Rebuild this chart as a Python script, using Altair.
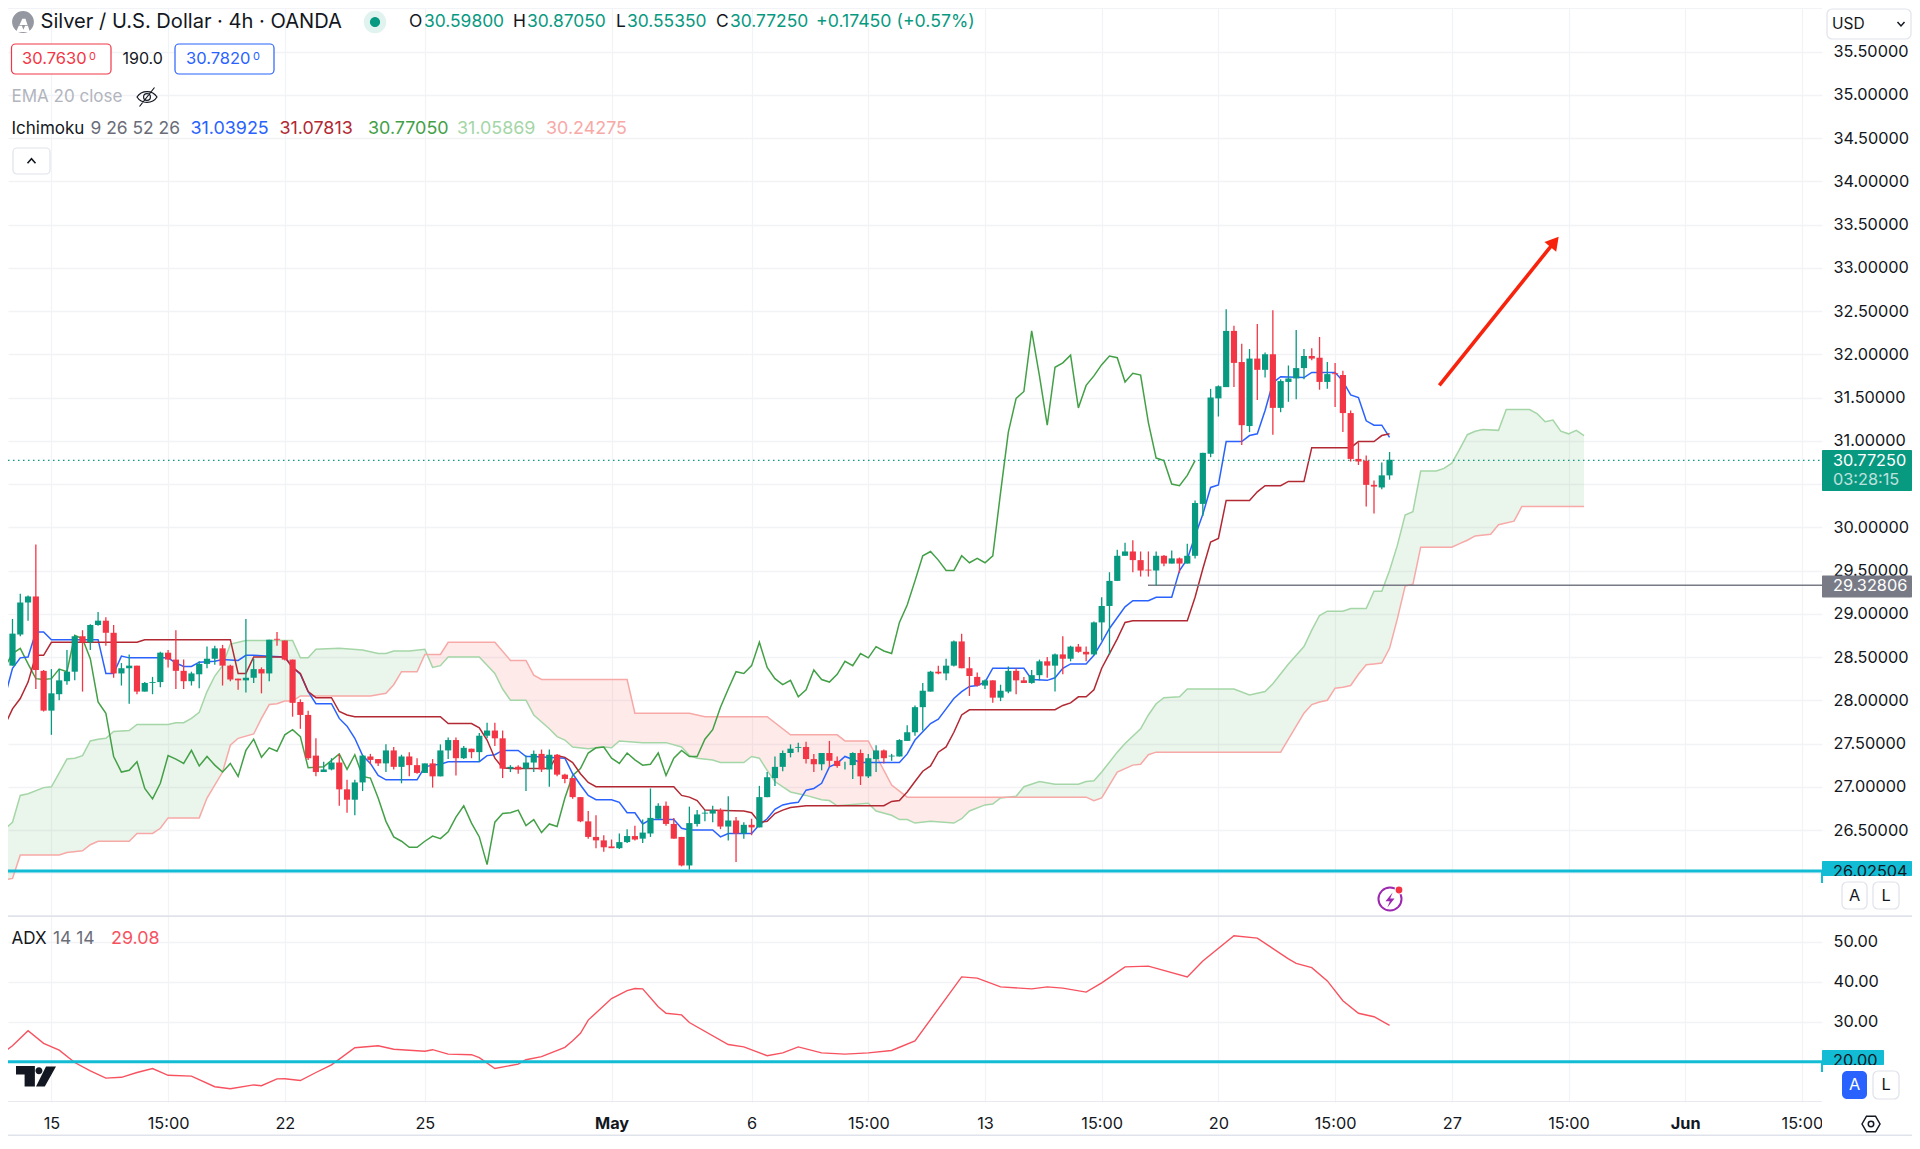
import altair as alt
import numpy as np
import pandas as pd

# ---------- candles (bar index -6 .. 172, 4h bars) ----------
first_bar = -6
candle_dir = ("RGGGRRGGGG" "RGGRRGGRGG" "GRRRGGGGRR" "RGGRGRRRRR" "RGGRRGGRRG"
              "RGRRGRGGRG" "RGGRRGRGGR" "GRRRRRRRRG" "GRGGGRRRGG" "GGRGRGRGGG"
              "GGGRRGRRGG" "RGGRGGGGGG" "RGGRRRGRGG" "RRGGRGRGRR" "GGGGGRRRGR"
              "GRGGGGGGRR" "GRGRGGGGRR" "GRRRRRRGG")
wick_high = [28.52,28.94,29.23,29.21,29.80,28.35,28.36,28.36,28.58,28.75,
 28.81,28.88,29.02,28.96,28.87,28.43,28.53,28.40,28.21,28.27,
 28.56,28.58,28.81,28.47,28.33,28.45,28.62,28.63,28.64,28.41,
 28.25,28.94,28.48,28.38,28.70,28.79,28.69,28.47,28.01,27.88,
 27.56,27.29,27.33,27.38,27.08,27.08,27.37,27.38,27.32,27.49,
 27.46,27.37,27.40,27.33,27.27,27.32,27.49,27.57,27.57,27.47,
 27.44,27.62,27.74,27.74,27.65,27.25,27.25,27.36,27.42,27.43,
 27.43,27.38,27.15,27.10,26.88,26.72,26.67,26.44,26.39,26.46,
 26.51,26.55,26.62,26.98,26.81,26.83,26.64,26.42,26.77,26.73,
 26.73,26.78,26.75,26.89,26.65,26.59,26.63,27.01,27.17,27.35,
 27.42,27.49,27.51,27.52,27.38,27.39,27.53,27.35,27.29,27.40,
 27.43,27.38,27.48,27.43,27.38,27.55,27.71,27.94,28.20,28.34,
 28.40,28.48,28.69,28.77,28.50,28.32,28.24,28.23,28.18,28.39,
 28.37,28.27,28.35,28.47,28.50,28.54,28.74,28.63,28.65,28.62,
 28.91,29.19,29.48,29.74,29.82,29.85,29.72,29.72,29.72,29.68,
 29.73,29.65,29.81,30.31,30.86,31.60,31.64,32.52,32.33,32.12,
 32.06,32.35,32.02,32.51,31.71,31.87,32.28,32.06,32.07,32.20,
 31.91,31.90,31.81,31.35,30.98,30.83,30.54,30.75,30.87]
body_top = [28.44,28.77,29.13,29.20,29.20,28.34,28.08,28.23,28.33,28.74,
 28.74,28.87,28.92,28.92,28.78,28.37,28.40,28.40,28.20,28.21,
 28.55,28.55,28.47,28.34,28.31,28.42,28.48,28.60,28.60,28.40,
 28.25,28.26,28.36,28.36,28.70,28.71,28.69,28.47,27.98,27.83,
 27.36,27.20,27.28,27.28,26.97,27.05,27.36,27.35,27.32,27.42,
 27.42,27.35,27.35,27.25,27.27,27.27,27.42,27.54,27.54,27.45,
 27.44,27.59,27.65,27.65,27.56,27.23,27.23,27.28,27.38,27.38,
 27.37,27.37,27.14,27.10,26.88,26.60,26.42,26.38,26.31,26.36,
 26.43,26.43,26.47,26.64,26.78,26.78,26.57,26.42,26.58,26.68,
 26.70,26.73,26.73,26.61,26.61,26.56,26.56,26.88,27.11,27.23,
 27.39,27.44,27.46,27.46,27.32,27.39,27.39,27.30,27.25,27.39,
 27.39,27.33,27.42,27.42,27.36,27.54,27.63,27.92,28.11,28.33,
 28.33,28.40,28.68,28.68,28.37,28.27,28.23,28.23,28.11,28.34,
 28.34,28.23,28.29,28.45,28.45,28.53,28.53,28.62,28.62,28.56,
 28.90,29.09,29.38,29.67,29.72,29.72,29.62,29.51,29.67,29.67,
 29.64,29.64,29.67,30.28,30.86,31.50,31.63,32.27,32.27,31.91,
 31.95,31.95,32.00,32.00,31.69,31.72,31.84,31.98,31.98,31.96,
 31.77,31.78,31.76,31.32,30.79,30.77,30.49,30.60,30.78]
body_bottom = [28.40,28.40,28.76,29.13,28.35,27.88,27.88,28.07,28.22,28.33,
 28.67,28.67,28.87,28.78,28.31,28.31,28.37,28.10,28.10,28.20,
 28.21,28.47,28.34,28.22,28.22,28.30,28.42,28.48,28.40,28.24,
 28.23,28.23,28.26,28.31,28.31,28.70,28.47,27.97,27.83,27.33,
 27.17,27.17,27.20,26.97,26.85,26.85,27.05,27.31,27.27,27.27,
 27.23,27.23,27.25,27.16,27.16,27.12,27.12,27.42,27.33,27.33,
 27.40,27.40,27.59,27.56,27.21,27.21,27.20,27.21,27.28,27.20,
 27.20,27.14,27.09,26.88,26.60,26.42,26.38,26.30,26.29,26.29,
 26.36,26.39,26.40,26.46,26.63,26.57,26.40,26.09,26.09,26.57,
 26.69,26.69,26.54,26.54,26.46,26.46,26.53,26.53,26.88,27.10,
 27.23,27.39,27.45,27.32,27.26,27.26,27.30,27.24,27.25,27.25,
 27.12,27.12,27.32,27.33,27.35,27.35,27.53,27.63,27.92,28.10,
 28.31,28.31,28.40,28.37,28.28,28.17,28.17,28.03,28.03,28.10,
 28.23,28.20,28.20,28.29,28.40,28.40,28.48,28.48,28.56,28.53,
 28.53,28.90,29.09,29.38,29.67,29.62,29.50,29.50,29.50,29.58,
 29.58,29.58,29.58,29.67,30.27,30.85,31.49,31.62,31.90,31.18,
 31.17,31.82,31.82,31.38,31.38,31.68,31.72,31.84,31.95,31.68,
 31.68,31.77,31.32,30.79,30.76,30.49,30.47,30.46,30.60]
wick_low = [28.40,28.40,28.74,28.92,28.13,27.87,27.60,28.00,28.18,28.23,
 28.10,28.58,28.86,28.63,28.26,28.17,27.96,28.07,28.10,28.07,
 28.15,28.38,28.13,28.13,28.17,28.14,28.37,28.41,28.17,28.22,
 28.12,28.09,28.20,28.08,28.22,28.63,28.46,27.81,27.67,27.31,
 27.12,27.17,27.19,26.78,26.70,26.67,26.95,27.26,27.24,27.17,
 27.20,27.04,27.12,27.15,27.16,26.99,27.12,27.32,27.13,27.32,
 27.33,27.29,27.56,27.47,27.10,27.17,27.15,26.95,27.17,27.17,
 27.00,27.12,27.04,26.86,26.59,26.40,26.29,26.25,26.29,26.28,
 26.35,26.38,26.35,26.42,26.62,26.55,26.40,26.08,26.04,26.54,
 26.60,26.59,26.51,26.38,26.13,26.40,26.44,26.53,26.88,27.01,
 27.18,27.34,27.40,27.27,27.17,27.19,27.23,27.22,27.20,27.09,
 27.02,27.10,27.17,27.27,27.30,27.35,27.53,27.59,27.65,28.10,
 28.30,28.23,28.39,28.37,28.05,28.16,28.13,27.97,27.99,28.08,
 28.07,28.20,28.19,28.23,28.26,28.10,28.30,28.45,28.55,28.45,
 28.52,28.69,28.53,29.38,29.67,29.48,29.43,29.43,29.33,29.55,
 29.58,29.47,29.58,29.64,30.13,30.81,31.28,31.62,31.62,30.95,
 31.10,31.47,31.73,31.07,31.33,31.45,31.48,31.71,31.93,31.59,
 31.60,31.39,31.10,30.76,30.72,30.24,30.16,30.44,30.55]

# ---------- indicator vertices: (bar index, value) ----------
tenkan = [(-7,28.03),(-6,28.03),(-5,28.37),(-4,28.49),(-3,28.50),(-2,28.79),(-1,28.79),(0,28.70),(6,28.70),(7,28.31),(8,28.31),(9,28.51),(10,28.49),(15,28.49),(16,28.43),(17,28.39),(18,28.39),(19,28.44),(21,28.45),(22,28.47),(24,28.46),(25,28.52),(26,28.52),(28,28.51),(30,28.50),(31,28.38),(32,28.30),(33,28.10),(34,27.96),(36,27.96),(37,27.79),(38,27.70),(39,27.56),(40,27.36),(41,27.27),(42,27.13),(43,27.08),(47,27.08),(48,27.23),(49,27.25),(50,27.26),(51,27.29),(55,27.29),(56,27.36),(57,27.37),(58,27.42),(60,27.42),(61,27.35),(62,27.35),(66,27.33),(67,27.15),(68,27.02),(69,26.90),(70,26.85),(72,26.85),(73,26.82),(74,26.70),(75,26.70),(76,26.57),(77,26.62),(80,26.62),(81,26.52),(82,26.50),(85,26.50),(86,26.42),(87,26.46),(90,26.46),(91,26.56),(92,26.63),(93,26.74),(94,26.79),(95,26.81),(96,26.82),(97,26.96),(98,26.98),(99,27.04),(100,27.23),(101,27.27),(102,27.35),(104,27.28),(109,27.28),(110,27.38),(111,27.54),(113,27.73),(114,27.78),(115,27.90),(116,28.02),(117,28.10),(118,28.16),(119,28.17),(120,28.21),(121,28.37),(125,28.37),(126,28.24),(128,28.23),(129,28.26),(130,28.37),(131,28.42),(133,28.42),(134,28.52),(135,28.67),(136,28.83),(138,29.08),(139,29.15),(141,29.15),(142,29.19),(144,29.19),(145,29.50),(146,29.63),(147,29.90),(148,30.15),(149,30.46),(150,30.49),(151,30.99),(153,30.99),(154,31.06),(155,31.08),(156,31.35),(157,31.67),(158,31.74),(161,31.73),(162,31.79),(165,31.79),(166,31.69),(167,31.53),(168,31.50),(169,31.23),(170,31.18),(171,31.18),(172,31.04)]
kijun = [(-7,27.60),(-6,27.71),(-5,27.90),(-4,28.02),(-3,28.21),(-2,28.52),(-1,28.52),(0,28.67),(11,28.67),(12,28.70),(23,28.70),(24,28.31),(25,28.31),(26,28.50),(30,28.50),(31,28.38),(32,28.31),(33,28.10),(34,28.03),(36,28.03),(37,27.87),(38,27.83),(39,27.81),(50,27.81),(51,27.73),(54,27.73),(55,27.68),(56,27.54),(57,27.33),(58,27.22),(59,27.21),(64,27.21),(65,27.36),(66,27.34),(67,27.28),(68,27.15),(69,27.05),(70,27.00),(80,27.00),(81,26.90),(82,26.88),(83,26.84),(84,26.73),(89,26.72),(90,26.70),(91,26.59),(92,26.60),(93,26.69),(94,26.73),(95,26.76),(97,26.78),(107,26.78),(108,26.83),(109,26.84),(110,26.94),(111,27.06),(112,27.18),(113,27.24),(114,27.40),(115,27.46),(116,27.63),(117,27.83),(118,27.89),(129,27.89),(130,27.94),(131,27.97),(132,28.04),(133,28.04),(134,28.12),(135,28.37),(136,28.54),(137,28.71),(138,28.90),(139,28.92),(146,28.92),(147,29.19),(148,29.52),(149,29.83),(150,29.87),(151,30.31),(154,30.31),(155,30.41),(156,30.48),(158,30.48),(159,30.53),(161,30.53),(162,30.92),(167,30.92),(168,30.99),(170,30.99),(171,31.06),(172,31.08)]
chikou = [(-7,28.33),(-6,28.38),(-5,28.54),(-4,28.60),(-3,28.42),(-2,28.25),(-1,28.24),(0,28.25),(1,28.36),(2,28.33),(3,28.75),(4,28.71),(5,28.48),(6,27.98),(7,27.85),(8,27.35),(9,27.17),(10,27.19),(11,27.29),(12,26.98),(13,26.86),(14,27.04),(15,27.36),(16,27.32),(17,27.27),(18,27.42),(19,27.24),(20,27.35),(21,27.25),(22,27.17),(23,27.27),(24,27.12),(25,27.42),(26,27.55),(27,27.34),(28,27.45),(29,27.41),(30,27.60),(31,27.66),(32,27.58),(33,27.22),(35,27.23),(37,27.38),(38,27.20),(39,27.37),(40,27.12),(41,27.10),(42,26.87),(43,26.60),(44,26.42),(45,26.37),(46,26.30),(47,26.30),(48,26.37),(49,26.43),(50,26.40),(51,26.48),(52,26.65),(53,26.78),(54,26.58),(55,26.42),(56,26.10),(57,26.59),(58,26.69),(59,26.70),(60,26.73),(61,26.55),(62,26.62),(63,26.47),(64,26.57),(65,26.54),(66,26.87),(67,27.13),(68,27.21),(69,27.39),(70,27.45),(71,27.46),(72,27.33),(73,27.27),(74,27.39),(75,27.31),(76,27.25),(77,27.26),(78,27.39),(79,27.13),(80,27.33),(81,27.42),(82,27.35),(83,27.35),(84,27.55),(85,27.66),(86,27.92),(87,28.13),(88,28.33),(89,28.31),(90,28.40),(91,28.67),(92,28.38),(93,28.25),(94,28.18),(95,28.23),(96,28.04),(97,28.12),(98,28.35),(99,28.24),(100,28.21),(101,28.30),(102,28.45),(103,28.40),(104,28.54),(105,28.49),(106,28.62),(107,28.57),(108,28.54),(109,28.90),(110,29.10),(111,29.38),(112,29.67),(113,29.72),(114,29.62),(115,29.50),(116,29.50),(117,29.67),(118,29.59),(119,29.64),(120,29.59),(121,29.67),(122,30.40),(123,31.10),(124,31.49),(125,31.57),(126,32.27),(127,31.75),(128,31.18),(129,31.85),(130,31.90),(131,31.99),(132,31.38),(133,31.64),(134,31.75),(135,31.88),(136,31.98),(137,31.96),(138,31.68),(139,31.78),(140,31.76),(141,31.21),(142,30.80),(143,30.77),(144,30.50),(145,30.48),(146,30.60),(147,30.77)]
senkou_a = [(-7,26.50),(-6,26.51),(-5,26.59),(-4,26.90),(-3,26.92),(-1,26.99),(0,27.00),(2,27.32),(3,27.33),(4,27.36),(5,27.53),(6,27.55),(7,27.56),(8,27.64),(10,27.65),(11,27.72),(15,27.72),(16,27.74),(17,27.74),(18,27.79),(19,27.86),(20,28.10),(21,28.28),(22,28.40),(23,28.65),(25,28.69),(31,28.69),(32,28.49),(33,28.49),(34,28.59),(37,28.60),(40,28.58),(42,28.54),(43,28.54),(44,28.57),(46,28.57),(48,28.59),(49,28.38),(50,28.40),(51,28.50),(55,28.50),(57,28.31),(58,28.13),(59,28.00),(61,28.00),(62,27.83),(64,27.67),(65,27.58),(66,27.54),(67,27.46),(69,27.44),(71,27.46),(72,27.45),(73,27.53),(76,27.51),(79,27.51),(81,27.46),(82,27.36),(83,27.33),(85,27.31),(86,27.28),(89,27.28),(90,27.35),(91,27.33),(92,27.19),(93,27.06),(95,26.94),(97,26.90),(99,26.85),(100,26.84),(101,26.78),(105,26.81),(106,26.72),(108,26.67),(109,26.62),(110,26.62),(111,26.58),(113,26.60),(116,26.58),(117,26.63),(118,26.72),(120,26.79),(121,26.80),(122,26.87),(124,26.89),(125,27.00),(127,27.06),(129,27.03),(132,27.03),(133,27.06),(134,27.07),(135,27.17),(137,27.40),(138,27.50),(140,27.67),(141,27.83),(142,27.96),(143,28.03),(145,28.04),(146,28.13),(152,28.13),(154,28.06),(156,28.10),(157,28.19),(159,28.42),(161,28.62),(162,28.81),(163,28.98),(164,29.03),(166,29.03),(167,29.06),(169,29.06),(170,29.26),(171,29.26),(172,29.50),(173,29.79),(174,30.14),(175,30.18),(176,30.65),(178,30.65),(179,30.68),(180,30.74),(181,30.90),(182,31.07),(183,31.11),(184,31.13),(186,31.12),(187,31.36),(190,31.36),(191,31.31),(192,31.22),(193,31.24),(194,31.11),(195,31.08),(196,31.12),(197,31.06)]
senkou_b = [(-7,25.91),(-5,25.94),(-4,26.21),(1,26.21),(2,26.24),(4,26.26),(5,26.33),(6,26.37),(10,26.37),(11,26.46),(13,26.46),(14,26.52),(15,26.64),(19,26.64),(20,26.87),(22,27.17),(23,27.48),(24,27.56),(26,27.61),(27,27.79),(28,27.95),(29,27.96),(30,27.99),(31,27.99),(32,28.05),(41,28.05),(43,28.08),(44,28.18),(45,28.33),(47,28.33),(48,28.53),(50,28.53),(51,28.67),(57,28.67),(59,28.46),(61,28.46),(62,28.29),(63,28.24),(74,28.24),(75,27.85),(82,27.85),(84,27.81),(92,27.81),(95,27.60),(101,27.60),(102,27.53),(105,27.53),(108,27.02),(110,26.88),(133,26.88),(134,26.84),(135,26.87),(137,27.17),(139,27.25),(140,27.26),(141,27.37),(142,27.40),(158,27.40),(159,27.55),(160,27.70),(161,27.85),(162,27.95),(163,27.98),(164,28.00),(165,28.14),(166,28.15),(167,28.17),(168,28.30),(169,28.41),(170,28.42),(171,28.43),(172,28.60),(173,28.94),(174,29.32),(175,29.34),(176,29.77),(180,29.77),(181,29.81),(182,29.85),(183,29.90),(185,29.92),(186,30.03),(188,30.07),(189,30.24),(197,30.24)]
adx = [(-7,22.2),(-6,22.5),(-5,24.0),(-3,27.75),(-1,24.6),(1,22.9),(3,19.8),(5,17.7),(7,15.9),(9,16.1),(11,17.3),(13,18.3),(15,16.6),(18,16.4),(21,13.75),(23,13.25),(26,14.2),(27,14.0),(29,15.7),(30,15.75),(32,15.3),(34,17.3),(36,19.2),(39,23.5),(42,24.0),(44,23.1),(48,22.6),(49,23.0),(51,21.9),(54,21.75),(55,21.0),(57,18.3),(60,19.4),(61,20.5),(63,21.25),(66,23.6),(67,25.25),(68,27.1),(69,30.4),(72,35.8),(74,37.75),(75,38.3),(76,38.2),(78,33.75),(79,32.1),(81,31.7),(82,29.8),(87,24.3),(89,23.7),(92,21.5),(94,22.2),(96,23.7),(99,22.2),(102,21.9),(105,22.2),(108,22.8),(111,25.2),(117,41.2),(119,40.9),(122,38.7),(126,38.2),(128,38.7),(130,38.4),(133,37.4),(135,39.7),(138,43.7),(141,43.9),(146,41.2),(148,45.2),(152,51.5),(155,50.9),(159,45.7),(160,44.6),(162,43.5),(164,40.2),(166,35.25),(168,32.1),(170,31.25),(172,29.08)]

price_ticks = [26.5 + 0.5 * k for k in range(19)]
extra_price_grid = [26.0, 36.0]
adx_ticks = [20, 30, 40, 50]
time_idx = [0, 15, 30, 48, 72, 90, 105, 120, 135, 150, 165, 180, 195, 210, 225]
time_lab = ["15", "15:00", "22", "25", "May", "6", "15:00", "13", "15:00", "20", "15:00", "27", "15:00", "Jun", "15:00"]
last_price, pivot_low, support = 30.7725, 29.32806, 26.02504
arrow_i, arrow_p = [178.4, 193.2], [31.64, 33.3]

# ---------- pixel helpers (page pixels -> scale values) ----------
RIGHT = 1912  # last page pixel that does not make the page overflow
def xd(px): return (px - 51.4) / 7.78
def yp(py): return 35.5 - (py - 51.5) / 86.5
def ya(py): return 20 + (1061.7 - py) / 4.0

x_scale = alt.Scale(domain=[xd(8), xd(1822)], nice=False, zero=False, padding=0)
p_scale = alt.Scale(domain=[yp(916), yp(8)], nice=False, zero=False, padding=0)
a_scale = alt.Scale(domain=[ya(1102), ya(916)], nice=False, zero=False, padding=0)
GRID = "#f2f3f6"; INK = "#131722"; UP = "#089981"; DOWN = "#f23645"; TEAL = "#12bcd4"; FONT = "Inter"
TS = 17.4   # legend text size
IS = 17.9   # indicator value size
AS = 16.3   # axis text size

price_axis = alt.Axis(orient="right", values=price_ticks, format=".5f", title=None, grid=True, gridColor=GRID, gridWidth=1.5,
                      domain=False, ticks=False, labelPadding=11, labelFont=FONT, labelFontSize=AS, labelColor=INK,
                      labelOverlap=False, labelFlush=False)
x_grid_axis = alt.Axis(values=time_idx, labels=False, ticks=False, domain=False, title=None, grid=True, gridColor=GRID, gridWidth=1.2)
time_axis = alt.Axis(values=time_idx, title=None, grid=True, gridColor=GRID, gridWidth=1.2, ticks=False, domain=False,
                     labelFont=FONT, labelFontSize=AS, labelColor=INK, labelPadding=13, labelOverlap=False,
                     labelExpr="{" + ",".join(f"'{k}':'{v}'" for k, v in zip(time_idx, time_lab)) + "}[datum.value]",
                     labelFontWeight={"condition": {"test": "datum.value==72||datum.value==210", "value": "bold"}, "value": "normal"})
adx_axis = alt.Axis(orient="right", values=adx_ticks, format=".2f", title=None, grid=True, gridColor=GRID, gridWidth=1.5,
                    domain=False, ticks=False, labelPadding=11, labelFont=FONT, labelFontSize=AS, labelColor=INK, labelOverlap=False)

CUR_X = x_grid_axis

def frame(pairs):
    return pd.DataFrame(pairs, columns=["i", "v"])

def X(f="i"): return alt.X(f"{f}:Q", scale=x_scale, axis=CUR_X)
def Y(f, yscale): return alt.Y(f"{f}:Q", scale=yscale, axis=price_axis if yscale is p_scale else adx_axis)

def texts(rows, yfun, yscale, align="left"):
    df = pd.DataFrame(rows, columns=["px", "py", "t", "c", "s", "o"])
    df["x"] = df.px.map(xd); df["y"] = df.py.map(yfun)
    return alt.Chart(df).mark_text(font=FONT, align=align, baseline="middle", clip=False).encode(
        x=X("x"), y=Y("y", yscale), text="t:N",
        color=alt.Color("c:N", scale=None), size=alt.Size("s:Q", scale=None), opacity=alt.Opacity("o:Q", scale=None))

def box(x0, x1, y0, y1, yfun, yscale, fill="#ffffff", stroke=None, r=0, sw=1.2):
    df = pd.DataFrame({"x": [xd(x0)], "x2": [xd(x1)], "y": [yfun(y0)], "y2": [yfun(y1)]})
    kw = dict(fill=fill, cornerRadius=r, clip=False)
    if stroke:
        kw.update(stroke=stroke, strokeWidth=sw)
    return alt.Chart(df).mark_rect(**kw).encode(x=X("x"), x2="x2:Q", y=Y("y", yscale), y2="y2:Q")

def icon(px, py, shape, size, yfun, yscale, fill=None, stroke=None, sw=1.3):
    df = pd.DataFrame({"x": [xd(px)], "y": [yfun(py)]})
    kw = dict(shape=shape, size=size, clip=False, opacity=1, filled=fill is not None, strokeWidth=sw)
    if fill:
        kw.update(fill=fill, stroke=stroke or fill)
    else:
        kw.update(stroke=stroke, fill="transparent", filled=False)
    return alt.Chart(df).mark_point(**kw).encode(x=X("x"), y=Y("y", yscale))

# ---------- data frames ----------
n = len(wick_high)
cdf = pd.DataFrame({"i": range(first_bar, first_bar + n), "hi": wick_high, "top": body_top, "bot": body_bottom,
                    "lo": wick_low, "dir": list(candle_dir)})
clr = alt.Color("dir:N", scale=alt.Scale(domain=["G", "R"], range=[UP, DOWN]), legend=None)

ax, av = zip(*senkou_a); bx, bv = zip(*senkou_b)
xs = np.unique(np.concatenate([ax, bx]).astype(float))
A = np.interp(xs, ax, av); B = np.interp(xs, bx, bv)
d = A - B
extra = [xs[k] + (xs[k + 1] - xs[k]) * d[k] / (d[k] - d[k + 1]) for k in range(len(xs) - 1) if d[k] * d[k + 1] < 0]
xs = np.unique(np.concatenate([xs, extra]))
A = np.interp(xs, ax, av); B = np.interp(xs, bx, bv)
cloud = pd.DataFrame({"i": xs, "a": A, "b": B, "low": np.minimum(A, B)})

def price_y(f):
    return Y(f, p_scale)

def pline(pairs, color, w=1.5):
    return alt.Chart(frame(pairs)).mark_line(color=color, strokeWidth=w, clip=True, interpolate="linear").encode(x=X(), y=price_y("v"))

base = alt.Chart(pd.DataFrame({"v": extra_price_grid, "i": [xd(8), xd(8)], "e": [xd(1822), xd(1822)]})).mark_rule(color=GRID, strokeWidth=1.5, clip=True).encode(
    x=X(), x2="e:Q", y=price_y("v"))

cloud_g = alt.Chart(cloud).mark_area(color="#43a047", opacity=0.11, clip=True).encode(x=X(), y=price_y("a"), y2="low:Q")
cloud_r = alt.Chart(cloud).mark_area(color="#f44336", opacity=0.11, clip=True).encode(x=X(), y=price_y("b"), y2="low:Q")

wicks = alt.Chart(cdf).mark_rule(strokeWidth=1.3, clip=True).encode(x=X(), y=price_y("lo"), y2="hi:Q", color=clr)
bodies = alt.Chart(cdf).mark_bar(size=6.2, clip=True).encode(x=X(), y=price_y("bot"), y2="top:Q", color=clr)

def hline(val, start, color, w, dash=None):
    df = pd.DataFrame({"i": [start], "e": [xd(1822)], "v": [val]})
    kw = dict(color=color, strokeWidth=w, clip=True)
    if dash: kw["strokeDash"] = dash
    return alt.Chart(df).mark_rule(**kw).encode(x=X(), x2="e:Q", y=price_y("v"))

arrow_df = pd.DataFrame({"i": arrow_i, "v": arrow_p})
arrow_line = alt.Chart(arrow_df).mark_line(color="#f8230c", strokeWidth=3.6, clip=True).encode(x=X(), y=price_y("v"))
arrow_head = alt.Chart(arrow_df.iloc[[1]]).mark_point(shape="triangle-up", size=230, angle=39.5, filled=True, color="#f8230c", opacity=1, clip=True).encode(x=X(), y=price_y("v"))

GR = "#6a6d78"
header_rows = [
    (40.5, 22, "Silver / U.S. Dollar · 4h · OANDA", INK, 20.1, 1),
    (409, 22, "O", INK, TS, 1), (424, 22, "30.59800", UP, TS, 1),
    (513, 22, "H", INK, TS, 1), (527, 22, "30.87050", UP, TS, 1),
    (616, 22, "L", INK, TS, 1), (627, 22, "30.55350", UP, TS, 1),
    (716, 22, "C", INK, TS, 1), (730, 22, "30.77250", UP, TS, 1),
    (816, 22, "+0.17450 (+0.57%)", UP, 17.7, 1),
    (22, 59, "30.7630", DOWN, 16.5, 1), (89, 57, "0", DOWN, 11, 1),
    (186, 59, "30.7820", "#2962ff", 16.5, 1), (253, 57, "0", "#2962ff", 11, 1),
    (122.5, 59, "190.0", INK, 16, 1),
    (11.5, 97, "EMA 20 close", "#b2b5be", 17, 1),
    (11.5, 129, "Ichimoku", INK, 17, 1), (90.5, 129, "9 26 52 26", GR, TS, 1),
    (190.5, 129, "31.03925", "#2962ff", IS, 1), (279.5, 129, "31.07813", "#b22833", IS, 1),
    (368, 129, "30.77050", "#43a047", IS, 1), (457, 129, "31.05869", "#a5d6a7", IS, 1),
    (546, 129, "30.24275", "#f7a9a7", IS, 1),
]
tag_rows = [
    (1833, 461, "30.77250", "#ffffff", AS, 1), (1833, 480, "03:28:15", "#ffffff", AS, 0.72),
    (1833, 586, "29.32806", "#ffffff", AS, 1),
    (1833, 872, "26.02504", INK, AS, 1),
]
center_rows = [(1854.5, 896, "A", INK, AS, 1), (1886, 896, "L", INK, AS, 1)]

EYE = "M-1,0C-.55,-.72 .55,-.72 1,0C.55,.72 -.55,.72 -1,0ZM-.34,0A.34,.34 0 1,0 .34,0A.34,.34 0 1,0 -.34,0ZM-.75,.95L.75,-.95"
BOLT = "M.35,-1L-.6,.15L-.02,.15L-.35,1L.6,-.2L.02,-.2Z"
CHEV_UP = "M-1,.55L0,-.55L1,.55"
CHEV_DN = "M-1,-.55L0,.55L1,-.55"

price_layers = [
    base, cloud_g, cloud_r,
    pline(senkou_a, "#a5d6a7"), pline(senkou_b, "#f7a9a7"),
    pline(chikou, "#43a047"), pline(tenkan, "#2962ff"), pline(kijun, "#b22833"),
    hline(pivot_low, xd(1148), "#787b86", 1.5),
    hline(last_price, xd(8), UP, 1.2, [1.5, 3.5]),
    wicks, bodies,
    hline(support, xd(8), TEAL, 3),
    arrow_line, arrow_head,
    # gutter furniture
    box(1822, RIGHT, 450, 491, yp, p_scale, fill=UP, r=1),
    box(1822, RIGHT, 575.5, 597.5, yp, p_scale, fill="#787b86", r=1),
    box(1822, RIGHT, 861, 876, yp, p_scale, fill=TEAL, r=1),
    texts(tag_rows, yp, p_scale),
    box(1823, RIGHT, 876, 915, yp, p_scale),
    box(1821, 1823, 872, 883, yp, p_scale, fill=TEAL),
    box(1827, RIGHT - 1, 9, 39, yp, p_scale, stroke="#e0e3eb", r=5),
    texts([(1832, 24, "USD", INK, 15.5, 1)], yp, p_scale),
    icon(1901, 24, CHEV_DN, 49, yp, p_scale, stroke=INK, sw=1.5),
    box(1842, 1867, 882, 909, yp, p_scale, stroke="#dfe2ea", r=5),
    box(1873, 1899, 882, 909, yp, p_scale, stroke="#dfe2ea", r=5),
    texts(center_rows, yp, p_scale, align="center"),
    # legend header
    box(11.5, 111, 44, 74, yp, p_scale, stroke=DOWN, r=4),
    box(175, 274, 44, 74, yp, p_scale, stroke="#2962ff", r=4),
    box(13, 50, 148, 174, yp, p_scale, stroke="#e0e3eb", r=4),
    icon(31.5, 161, CHEV_UP, 64, yp, p_scale, stroke=INK, sw=1.6),
    texts(header_rows, yp, p_scale),
    icon(23, 22, "circle", 420, yp, p_scale, fill="#9598a1"),
    icon(23, 25, "M-1,1L-.6,.1L-.15,.1L.15,1ZM-.1,1L.3,.1L.7,.1L1,1ZM-.5,0L-.1,-.9L.35,-.9L.65,0Z", 196, yp, p_scale, fill="#ffffff", sw=0),
    icon(375, 22, "circle", 452, yp, p_scale, fill="#e0f3ef"),
    icon(375, 22, "circle", 80, yp, p_scale, fill=UP),
    icon(147, 97, EYE, 400, yp, p_scale, stroke=INK, sw=1.2),
    # session icon
    icon(1390, 899, "circle", 531, yp, p_scale, stroke="#9c27b0", sw=2),
    icon(1390, 900, BOLT, 225, yp, p_scale, fill="#9c27b0", sw=0),
    icon(1399, 890, "circle", 60, yp, p_scale, fill="#ffffff"),
    icon(1399, 890, "circle", 30, yp, p_scale, fill=DOWN),
]
price_pane = alt.layer(*price_layers).properties(width=1814, height=908)

# ---------- ADX pane ----------
CUR_X = time_axis
adx_grid = alt.Chart(pd.DataFrame({"v": [10], "i": [xd(8)], "e": [xd(1822)]})).mark_rule(color="#e8eaf0", strokeWidth=1.5, clip=True).encode(
    x=X(), x2="e:Q", y=Y("v", a_scale))
adx_line = alt.Chart(frame(adx)).mark_line(color="#f7525f", strokeWidth=1.4, clip=True).encode(x=X(), y=Y("v", a_scale))
adx_level = alt.Chart(pd.DataFrame({"v": [20], "i": [xd(8)], "e": [xd(1822)]})).mark_rule(color=TEAL, strokeWidth=3, clip=True).encode(
    x=X(), x2="e:Q", y=Y("v", a_scale))

LOGO = ("M-1,-.52L-.056,-.52L-.056,.5L-.57,.5L-.57,-.1L-1,-.1Z"
        "M-.03,-.285A.176,.176 0 1,0 .322,-.285A.176,.176 0 1,0 -.03,-.285Z"
        "M.5,-.5L1,-.5L.44,.5L0,.5Z")
HEX = "M-1,0L-.5,-.87L.5,-.87L1,0L.5,.87L-.5,.87Z"
adx_layers = [
    adx_grid, adx_line, adx_level,
    box(1822, 1884, 1050, 1065, ya, a_scale, fill=TEAL, r=1),
    texts([(1833, 1061, "20.00", INK, AS, 1)], ya, a_scale),
    box(1823, RIGHT, 1065, 1104, ya, a_scale),
    box(1821, 1823, 1061, 1072, ya, a_scale, fill=TEAL),
    box(1842, 1867, 1071, 1099, ya, a_scale, fill="#2962ff", r=5),
    box(1873, 1899, 1071, 1099, ya, a_scale, stroke="#dfe2ea", r=5),
    texts([(1854.5, 1085, "A", "#ffffff", AS, 1), (1886, 1085, "L", INK, AS, 1)], ya, a_scale, align="center"),
    texts([(11.5, 939, "ADX", INK, 17, 1), (53, 939, "14 14", GR, TS, 1), (111, 939, "29.08", "#f7525f", IS, 1)], ya, a_scale),
    icon(36, 1076.5, LOGO, 1600, ya, a_scale, fill=INK, sw=0),
    # white gutter covering the clipped last time label, settings icon, frame lines
    box(1822, RIGHT, 1104, 1134, ya, a_scale),
    icon(1871, 1124, HEX, 324, ya, a_scale, stroke=INK, sw=1.5),
    icon(1871, 1124, "circle", 30, ya, a_scale, stroke=INK, sw=1.5),
    box(8, RIGHT, 915.2, 917, ya, a_scale, fill="#e0e3eb"),
    box(8, RIGHT, 1134.5, 1136, ya, a_scale, fill="#e0e3eb"),
]
adx_pane = alt.layer(*adx_layers).properties(width=1814, height=186)

chart = alt.vconcat(price_pane, adx_pane, spacing=0, bounds="flush").properties(
    padding={"left": 0, "top": 0, "right": 0, "bottom": 0}, background="#ffffff").configure_view(stroke=None)
chart.save("out.html", embed_options={"renderer": "svg", "actions": False})
